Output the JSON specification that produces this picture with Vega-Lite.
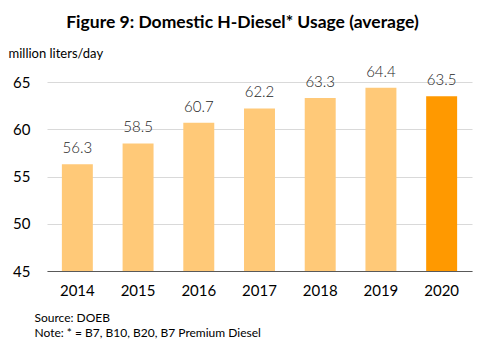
{
  "$schema": "https://vega.github.io/schema/vega-lite/v6.json",
  "autosize": {"type": "none"},
  "width": 425,
  "height": 189,
  "padding": {"left": 47, "top": 82, "right": 8, "bottom": 76},
  "background": "white",
  "config": {"view": {"stroke": null}, "font": "Lato"},
  "title": {
    "text": "Figure 9: Domestic H-Diesel* Usage (average)",
    "font": "Lato",
    "fontSize": 17.5,
    "fontWeight": "bold",
    "color": "#000000",
    "anchor": "middle",
    "dx": -17,
    "offset": 16
  },
  "data": {
    "values": [
      {"year": "2014", "value": 56.3, "hl": "no"},
      {"year": "2015", "value": 58.5, "hl": "no"},
      {"year": "2016", "value": 60.7, "hl": "no"},
      {"year": "2017", "value": 62.2, "hl": "no"},
      {"year": "2018", "value": 63.3, "hl": "no"},
      {"year": "2019", "value": 64.4, "hl": "no"},
      {"year": "2020", "value": 63.5, "hl": "yes"}
    ]
  },
  "encoding": {
    "x": {
      "field": "year",
      "type": "ordinal",
      "scale": {"paddingInner": 0.49, "paddingOuter": 0.245},
      "axis": {
        "title": ["Source: DOEB", "Note: * = B7, B10, B20, B7 Premium Diesel"],
        "titleFont": "Lato",
        "titleFontSize": 12,
        "titleFontWeight": "normal",
        "titleColor": "#000000",
        "titleAlign": "left",
        "titleAnchor": "start",
        "titleBaseline": "middle",
        "titleLineHeight": 15,
        "titleX": -13,
        "titleY": 46,
        "labelAngle": 0,
        "labelFontSize": 15,
        "labelColor": "#000000",
        "labelPadding": 12,
        "ticks": false,
        "domainColor": "#595959",
        "domainWidth": 1,
        "zindex": 1
      }
    },
    "y": {
      "field": "value",
      "type": "quantitative",
      "scale": {"domain": [45, 65], "zero": false, "nice": false},
      "axis": {
        "values": [45, 50, 55, 60, 65],
        "title": "million liters/day",
        "titleAngle": 0,
        "titleAlign": "left",
        "titleBaseline": "middle",
        "titleX": -39,
        "titleY": -29,
        "titleFontSize": 13,
        "titleFontWeight": "normal",
        "titleColor": "#000000",
        "labelFontSize": 15,
        "labelColor": "#000000",
        "labelPadding": 17,
        "ticks": false,
        "domain": false,
        "gridColor": "#D9D9D9",
        "gridWidth": 1
      }
    }
  },
  "layer": [
    {
      "mark": {"type": "bar", "clip": true},
      "encoding": {
        "color": {
          "field": "hl",
          "type": "nominal",
          "scale": {"domain": ["no", "yes"], "range": ["#FFC978", "#FF9900"]},
          "legend": null
        }
      }
    },
    {
      "mark": {"type": "text", "dy": -8, "fontSize": 15, "font": "Lato", "fontWeight": 300, "color": "#262626", "baseline": "bottom"},
      "encoding": {
        "text": {"field": "value", "type": "quantitative", "format": ".1f"}
      }
    }
  ]
}
